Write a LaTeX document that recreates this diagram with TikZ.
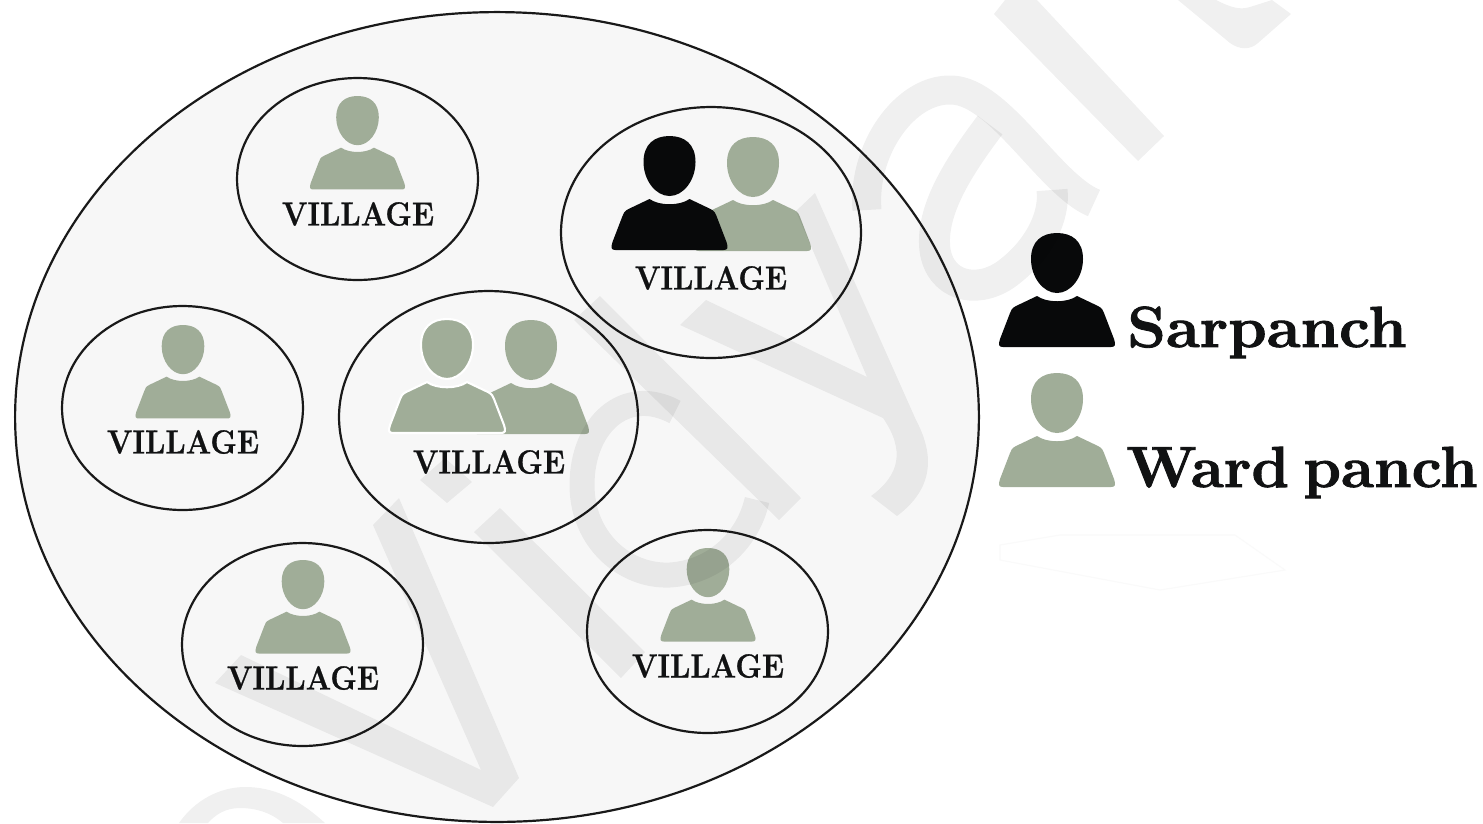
\documentclass[tikz,border=0pt]{standalone}
\usepackage{fontspec}
\usetikzlibrary{shapes.geometric}
\definecolor{wardgreen}{HTML}{A0AD98}
\definecolor{sarblack}{HTML}{08090A}
\definecolor{regionfill}{HTML}{F7F7F7}
\definecolor{inktext}{HTML}{111213}
\newcommand{\heavyink}[2]{\special{pdf:code 2 Tr #1 w}#2\special{pdf:code 0 Tr}}
\tikzset{
  region/.style={draw=black!90,line width=1.25pt,ellipse,fill=regionfill,inner sep=0pt},
  villagering/.style={draw=black!90,line width=1.25pt,ellipse,inner sep=0pt},
  villagelabel/.style={inner sep=0pt,text=inktext,xscale=.9,transform shape,font=\fontsize{19}{22}\selectfont\bfseries},
  legendlabel/.style={inner sep=0pt,anchor=base west,text=inktext,xscale=1.065,transform shape,font=\fontsize{33}{38}\selectfont\bfseries},
  wardlabel/.style={inner sep=0pt,anchor=base west,text=inktext,xscale=1.04,transform shape,font=\fontsize{33}{38}\selectfont\bfseries},
  wm/.style={fill=black,opacity=.06,draw=none},
  wmline/.style={draw=black,opacity=.06,line cap=butt,line join=round}
}
% #1 x, #2 y (head top), #3 scale, #4 colour, #5 extra options
\newcommand{\personicon}[5]{%
  \begin{scope}[shift={(#1,#2)},scale=#3]
    \fill[#4,#5] (0,0) .. controls (15,0) and (26,8) .. (26,26)
      .. controls (26,44) and (14,60) .. (0,60)
      .. controls (-14,60) and (-26,44) .. (-26,26)
      .. controls (-26,8) and (-15,0) .. (0,0) -- cycle;
    \fill[#4,#5] (-20,63) .. controls (-10,70) and (10,70) .. (20,63)
      -- (41,73) .. controls (45,75) and (46,77) .. (47,80)
      -- (57,106) .. controls (59,112) and (58,114) .. (54,114)
      -- (-54,114) .. controls (-58,114) and (-59,112) .. (-57,106)
      -- (-47,80) .. controls (-46,77) and (-45,75) .. (-41,73) -- cycle;
  \end{scope}}
\begin{document}
\begin{tikzpicture}[x=0.02cm,y=-0.02cm]
\useasboundingbox (0,0) rectangle (1483,823);
\fill[white] (0,0) rectangle (1483,823);

% outer region
\node[region,minimum width=19.28cm,minimum height=16.2cm] (block) at (497,417) {};

% villages
\node[villagering,minimum width=4.82cm,minimum height=4.04cm] (v1) at (357.5,179) {};
\node[villagering,minimum width=6cm,minimum height=5.02cm] (v2) at (711,232.5) {};
\node[villagering,minimum width=4.82cm,minimum height=4.08cm] (v3) at (182.5,408) {};
\node[villagering,minimum width=5.98cm,minimum height=5.04cm] (v4) at (488.5,417) {};
\node[villagering,minimum width=4.82cm,minimum height=4.06cm] (v5) at (302.5,644.5) {};
\node[villagering,minimum width=4.82cm,minimum height=4.06cm] (v6) at (707.5,631.5) {};

% people
\personicon{357.5}{96}{.82}{wardgreen}{}
\personicon{753}{137}{1}{wardgreen}{}
\personicon{669.5}{136}{1}{sarblack}{}
\personicon{183}{325}{.82}{wardgreen}{}
\personicon{531}{320}{1}{wardgreen}{}
\personicon{447}{319}{1}{wardgreen}{draw=white,line width=1.2pt}
\personicon{303}{560}{.82}{wardgreen}{}
\personicon{708}{548}{.82}{wardgreen}{}
\personicon{1057}{233}{1}{sarblack}{}
\personicon{1057}{373}{1}{wardgreen}{}

% labels
\node[villagelabel] (l1) at (358,214) {\heavyink{.15}{VILLAGE}};
\node[villagelabel] (l2) at (711,278) {\heavyink{.15}{VILLAGE}};
\node[villagelabel] (l3) at (183,442) {\heavyink{.15}{VILLAGE}};
\node[villagelabel] (l4) at (489,462) {\heavyink{.15}{VILLAGE}};
\node[villagelabel] (l5) at (303,678) {\heavyink{.15}{VILLAGE}};
\node[villagelabel] (l6) at (708,666) {\heavyink{.15}{VILLAGE}};
\node[legendlabel] (sar) at (1127,347) {\heavyink{.5}{Sarpanch}};
\node[wardlabel] (ward) at (1126,487) {\heavyink{.5}{Ward\hspace{-.14em} panch}};

% faint smudge under the legend
\draw[black!2,line width=.6pt] (1000,545) -- (1060,535) -- (1235,535) -- (1285,570) -- (1160,590) -- (1000,560) -- cycle;

% background watermark strokes
\fill[wm] (215,683) -- (241,655) -- (481,770) -- (373,525) -- (399,498) -- (519,778) -- (493,807) -- cycle;
\fill[wm] (474,532) -- (500,508) -- (645,652) -- (621,678) -- cycle;
\fill[wm] (420,480) -- (445,458) -- (472,482) -- (447,503) -- cycle;
\fill[wm] (574,320) -- (600,296) -- (801,498) -- (779,520) -- cycle;
\draw[wmline,line width=.5cm] (675,412) .. controls (625,385) and (582,425) .. (582,485)
   .. controls (582,540) and (625,577) .. (670,575) .. controls (715,572) and (748,540) .. (757,500);
\fill[wm] (680,325) -- (706,300) -- (867,377) -- (796,211) -- (815,193) -- (916,420)
   .. controls (940,465) and (925,495) .. (897,516) -- (871,496)
   .. controls (900,475) and (905,450) .. (883,418) -- cycle;
\draw[wmline,line width=.58cm] (867,210) .. controls (862,150) and (905,88) .. (952,90)
   .. controls (1000,92) and (1050,185) .. (1094,203);
\draw[wmline,line width=.62cm] (990,125) .. controls (960,165) and (930,210) .. (935,250)
   .. controls (940,285) and (975,295) .. (1005,275) .. controls (1040,250) and (1055,215) .. (1052,190);
\fill[wm] (994,14) -- (1005,0) -- (1037,0) -- (1164,136) -- (1138,161) -- cycle;
\fill[wm] (1178,0) -- (1230,43) .. controls (1240,50) and (1250,50) .. (1258,43) -- (1291,14) -- (1272,0)
   -- (1250,7) .. controls (1240,10) and (1232,8) .. (1216,0) -- cycle;
\fill[wm] (179,823) .. controls (195,800) and (220,787) .. (245,787) .. controls (280,787) and (305,805) .. (325,823)
   -- (283,823) .. controls (270,812) and (255,808) .. (240,808) .. controls (225,808) and (215,815) .. (208,823) -- cycle;
\end{tikzpicture}
\end{document}
